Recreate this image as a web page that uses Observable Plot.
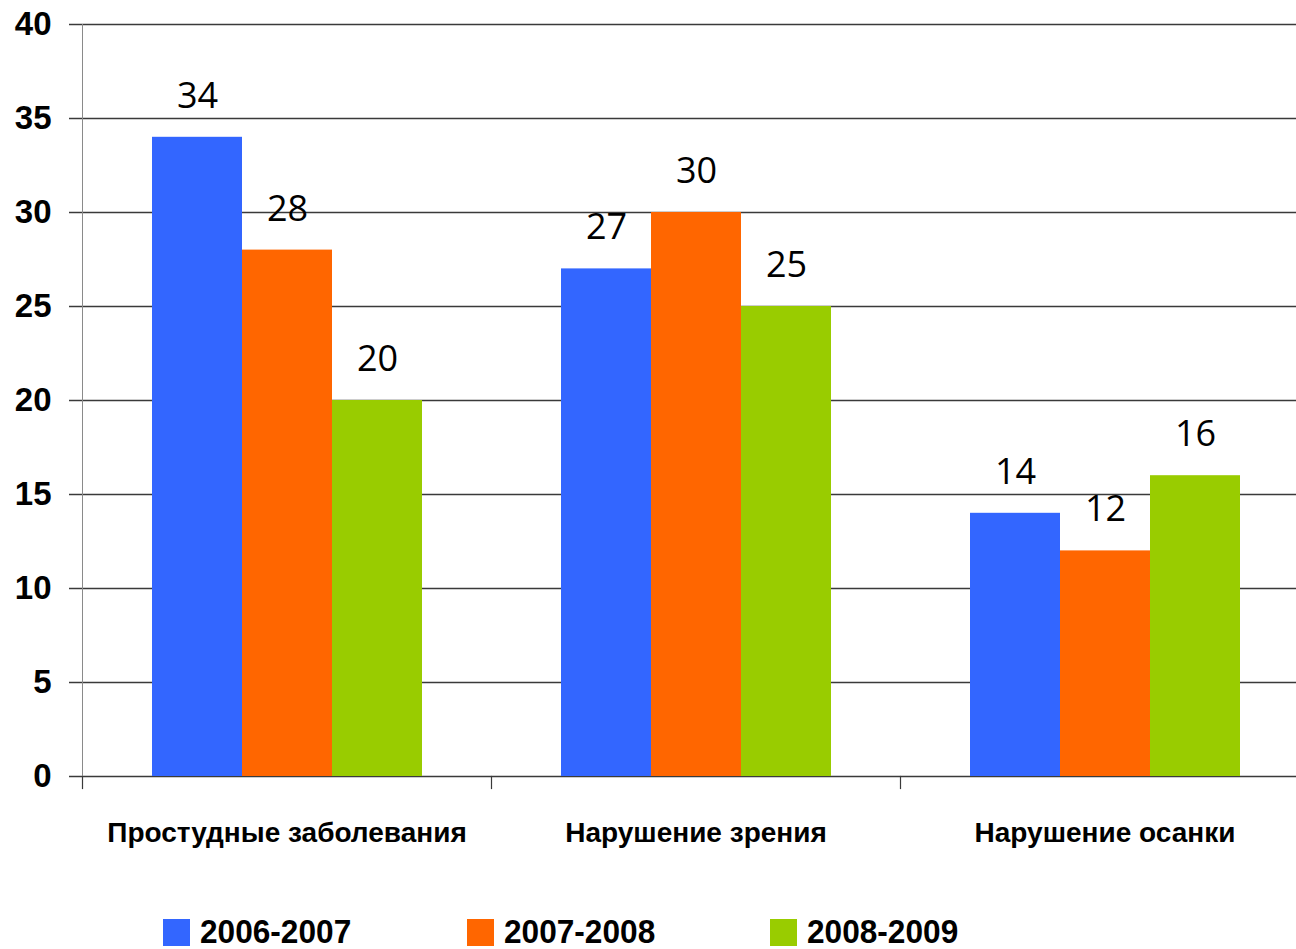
<!DOCTYPE html>
<html>
<head>
<meta charset="utf-8">
<script src="https://cdn.jsdelivr.net/npm/d3@7"></script>
<script src="https://cdn.jsdelivr.net/npm/@observablehq/plot@0.6"></script>
<style>
  html, body { margin: 0; padding: 0; background: #fff; overflow: hidden; width: 1296px; height: 949px; }
  #chart { width: 1296px; overflow: hidden; }
  #chart svg { display: block; color: #000; background: #fff; max-width: none !important; }
  #legend { padding-top: 36px; padding-left: 163px; height: 32px; line-height: 32px; font-family: "Liberation Sans", Arial, sans-serif; font-weight: bold; font-size: 31px; color: #000; white-space: nowrap; }
  .item { display: inline-flex; align-items: center; width: 303.5px; height: 32px; }
  .sw { width: 27px; height: 27px; margin-right: 10px; display: inline-block; }
  .lbl { display: inline-block; transform: scale(1.02, 1.1); transform-origin: left center; }
</style>
</head>
<body>
<div id="chart"></div>
<div id="legend"></div>
<script>
const categories = ["Простудные заболевания", "Нарушение зрения", "Нарушение осанки"];
const series = ["2006-2007", "2007-2008", "2008-2009"];
const values2006 = [34, 27, 14];
const values2007 = [28, 30, 12];
const values2008 = [20, 25, 16];
const colors = ["#3366FF", "#FF6600", "#99CC00"];
const yTicks = [0, 5, 10, 15, 20, 25, 30, 35, 40];

const seriesValues = [values2006, values2007, values2008];
const data = [];
categories.forEach((c, i) => {
  series.forEach((s, j) => data.push({cat: c, series: s, value: seriesValues[j][i]}));
});

const chart = Plot.plot({
  width: 1310,
  height: 880,
  marginLeft: 81,
  marginRight: 0,
  marginTop: 24,
  marginBottom: 104,
  style: {maxWidth: "none", overflow: "hidden"},
  fx: {domain: categories, padding: 0, axis: null, label: null},
  x: {domain: series, paddingInner: 0, paddingOuter: 0.75, axis: null},
  y: {domain: [0, 40], axis: null},
  color: {domain: series, range: colors},
  marks: [
    Plot.gridY(yTicks, {stroke: "#3a3a3a", strokeOpacity: 1, strokeWidth: 1.5}),
    Plot.frame({anchor: "left", stroke: "#8a8a8a", strokeWidth: 1, facetAnchor: "left"}),
    Plot.frame({anchor: "left", stroke: "#3a3a3a", strokeWidth: 1.2, insetTop: 752, insetBottom: -12}),
    Plot.barY(data, {fx: "cat", x: "series", y: "value", fill: "series"}),
    Plot.text(data, {fx: "cat", x: "series", y: "value", text: d => String(d.value), dy: -41, lineAnchor: "middle", fontSize: 36, fontFamily: "'Open Sans', sans-serif", fill: "#000"}),
    Plot.axisY(yTicks, {anchor: "left", tickSize: 13, tickPadding: 18, stroke: "#3a3a3a", strokeWidth: 1.5, fontSize: 33, fontWeight: "bold", fontFamily: "'Liberation Sans', Arial, sans-serif", fill: "#000", label: null}),
    Plot.axisFx({anchor: "bottom", tickSize: 0, tickPadding: 46, fontSize: 28, fontWeight: "bold", fontFamily: "'Liberation Sans', Arial, sans-serif", fill: "#000", label: null})
  ]
});
document.getElementById("chart").appendChild(chart);

const legend = document.getElementById("legend");
series.forEach((s, i) => {
  const item = document.createElement("span");
  item.className = "item";
  const sw = document.createElement("span");
  sw.className = "sw";
  sw.style.background = colors[i];
  const lbl = document.createElement("span");
  lbl.className = "lbl";
  lbl.textContent = s;
  item.appendChild(sw);
  item.appendChild(lbl);
  legend.appendChild(item);
});
</script>
</body>
</html>
